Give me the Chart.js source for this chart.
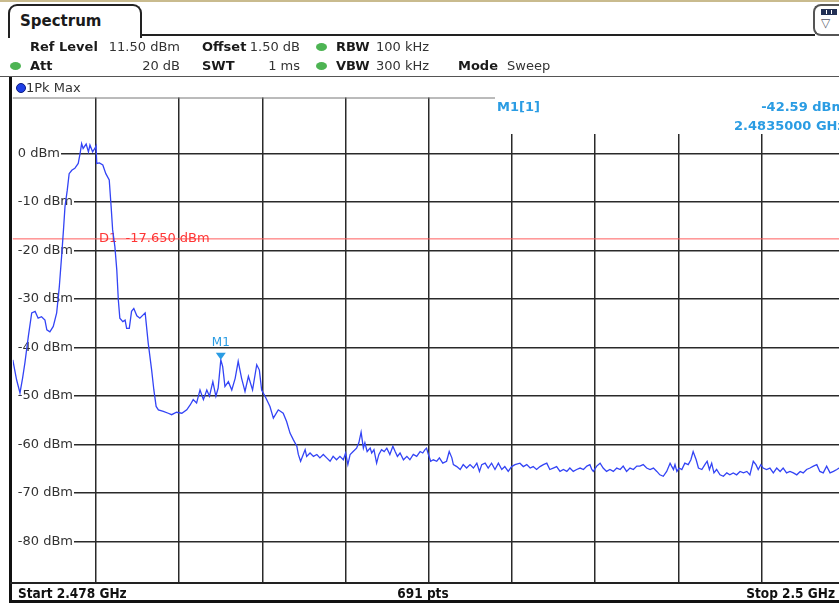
<!DOCTYPE html>
<html>
<head>
<meta charset="utf-8">
<script src="https://cdn.jsdelivr.net/npm/chart.js@4.4.1/dist/chart.umd.min.js"></script>
<style>
html, body { margin: 0; padding: 0; background: #fff; }
body { width: 839px; height: 604px; overflow: hidden; position: relative; font-family: "DejaVu Sans", Verdana, sans-serif; color: #1a1a1a; }
#wrap { position: absolute; left: 0; top: 0; width: 860px; height: 604px; }
.t { position: absolute; white-space: nowrap; font-size: 13px; line-height: 16px; }
.b { font-weight: bold; }
.v { color: #333; }
.r { text-align: right; }
.dot { position: absolute; width: 11px; height: 8px; border-radius: 50%; background: #4db453; }
.bar { font-family: "DejaVu Sans Condensed", "DejaVu Sans", sans-serif; font-weight: bold; font-size: 13.5px; color: #111; }
</style>
</head>
<body>
<div id="wrap"><canvas id="spec" width="860" height="604"></canvas></div>

<!-- cabecera -->
<div style="position:absolute;left:0;top:0;width:839px;height:2px;background:#c9bb8e"></div>
<div style="position:absolute;left:8px;top:4px;width:130px;height:32px;border:2px solid #222;border-bottom:none;border-radius:9px 9px 0 0;background:#fff"></div>
<div class="t b" style="left:20px;top:12px;font-size:15px;line-height:18px">Spectrum</div>
<div style="position:absolute;left:140px;top:34px;width:675px;height:2px;background:#222"></div>
<div style="position:absolute;left:813px;top:4px;width:40px;height:28px;border:2px solid #555;border-right:none;border-radius:8px 0 0 8px;background:#fff"></div>
<div style="position:absolute;left:821px;top:9px;width:16px;height:6px;background:#223055"></div>
<div style="position:absolute;left:826px;top:10px;width:1px;height:4px;background:#fff"></div>
<div style="position:absolute;left:831px;top:10px;width:1px;height:4px;background:#fff"></div>
<div class="t" style="left:821px;top:15px;font-size:12px;color:#556">&#9661;</div>

<div class="t b" style="left:30px;top:38.5px">Ref Level</div>
<div class="t v r" style="left:90px;width:90px;top:38.5px">11.50 dBm</div>
<div class="t b" style="left:202px;top:38.5px">Offset</div>
<div class="t v r" style="left:240px;width:60px;top:38.5px">1.50 dB</div>
<div class="dot" style="left:315.5px;top:43px"></div>
<div class="t b" style="left:336px;top:38.5px">RBW</div>
<div class="t v" style="left:376px;top:38.5px">100 kHz</div>

<div class="dot" style="left:10px;top:62px"></div>
<div class="t b" style="left:30px;top:58px">Att</div>
<div class="t v r" style="left:120px;width:60px;top:58px">20 dB</div>
<div class="t b" style="left:202px;top:58px">SWT</div>
<div class="t v r" style="left:240px;width:60px;top:58px">1 ms</div>
<div class="dot" style="left:315.5px;top:62px"></div>
<div class="t b" style="left:336px;top:58px">VBW</div>
<div class="t v" style="left:376px;top:58px">300 kHz</div>
<div class="t b" style="left:458px;top:58px">Mode</div>
<div class="t v" style="left:507px;top:58px">Sweep</div>

<div style="position:absolute;left:0;top:76px;width:839px;height:1px;background:#555"></div>
<div style="position:absolute;left:15.5px;top:83px;width:8px;height:8px;border-radius:50%;background:#1f3fe6;border:0.5px solid #0a1a80"></div>
<div class="t v" style="left:26px;top:79.5px">1Pk Max</div>

<!-- marco -->
<div style="position:absolute;left:9px;top:77px;width:3px;height:526px;background:#111"></div>
<div style="position:absolute;left:10px;top:581.5px;width:829px;height:2px;background:#222"></div>
<div style="position:absolute;left:9px;top:600px;width:830px;height:3px;background:#111"></div>
<div class="t bar" style="left:18px;top:584.5px">Start 2.478 GHz</div>
<div class="t bar" style="left:373px;width:100px;top:584.5px;text-align:center">691 pts</div>
<div class="t bar r" style="left:735px;width:100px;top:584.5px">Stop 2.5 GHz</div>

<script>
const freqMHz = [
    2478.00, 2478.10, 2478.19, 2478.26, 2478.32, 2478.41, 2478.50, 2478.59, 2478.67, 2478.76,
    2478.85, 2478.90, 2478.98, 2479.07, 2479.16, 2479.23, 2479.29, 2479.34, 2479.38, 2479.44,
    2479.49, 2479.56, 2479.64, 2479.73, 2479.78, 2479.82, 2479.86, 2479.94, 2480.00, 2480.04,
    2480.11, 2480.17, 2480.20, 2480.22, 2480.29, 2480.38, 2480.46, 2480.55, 2480.60, 2480.64,
    2480.70, 2480.75, 2480.79, 2480.83, 2480.91, 2480.97, 2481.01, 2481.08, 2481.14, 2481.20,
    2481.28, 2481.36, 2481.50, 2481.58, 2481.67, 2481.73, 2481.79, 2481.85, 2481.98, 2482.11,
    2482.20, 2482.33, 2482.47, 2482.60, 2482.69, 2482.77, 2482.86, 2482.95, 2483.04, 2483.13,
    2483.20, 2483.29, 2483.37, 2483.43, 2483.50, 2483.55, 2483.61, 2483.70, 2483.79, 2483.88,
    2483.96, 2484.05, 2484.14, 2484.23, 2484.34, 2484.45, 2484.52, 2484.58, 2484.67, 2484.80,
    2484.89, 2485.02, 2485.15, 2485.24, 2485.33, 2485.42, 2485.51, 2485.55, 2485.61, 2485.68,
    2485.73, 2485.77, 2485.86, 2485.95, 2486.04, 2486.12, 2486.21, 2486.30, 2486.39, 2486.47,
    2486.56, 2486.65, 2486.74, 2486.80, 2486.86, 2486.92, 2487.00, 2487.09, 2487.15, 2487.21,
    2487.27, 2487.31, 2487.37, 2487.45, 2487.49, 2487.55, 2487.62, 2487.68, 2487.75, 2487.82,
    2487.89, 2487.97, 2488.05, 2488.11, 2488.17, 2488.24, 2488.33, 2488.42, 2488.50, 2488.59,
    2488.68, 2488.77, 2488.84, 2488.90, 2488.94, 2488.99, 2489.05, 2489.12, 2489.21, 2489.28,
    2489.37, 2489.47, 2489.54, 2489.61, 2489.65, 2489.74, 2489.83, 2489.91, 2490.00, 2490.09,
    2490.18, 2490.27, 2490.34, 2490.40, 2490.49, 2490.57, 2490.66, 2490.75, 2490.84, 2490.93,
    2491.01, 2491.10, 2491.19, 2491.28, 2491.41, 2491.50, 2491.59, 2491.68, 2491.76, 2491.85,
    2491.94, 2492.03, 2492.12, 2492.20, 2492.29, 2492.38, 2492.47, 2492.56, 2492.65, 2492.73,
    2492.82, 2492.91, 2493.00, 2493.09, 2493.18, 2493.26, 2493.31, 2493.35, 2493.44, 2493.53,
    2493.61, 2493.70, 2493.79, 2493.88, 2493.97, 2494.06, 2494.14, 2494.23, 2494.32, 2494.41,
    2494.50, 2494.58, 2494.67, 2494.76, 2494.85, 2494.94, 2495.03, 2495.11, 2495.20, 2495.29,
    2495.38, 2495.42, 2495.47, 2495.51, 2495.56, 2495.62, 2495.69, 2495.77, 2495.86, 2495.93,
    2495.99, 2496.07, 2496.13, 2496.22, 2496.30, 2496.36, 2496.42, 2496.48, 2496.54, 2496.61,
    2496.70, 2496.79, 2496.88, 2496.96, 2497.05, 2497.14, 2497.23, 2497.32, 2497.41, 2497.49,
    2497.58, 2497.65, 2497.71, 2497.78, 2497.84, 2497.93, 2498.02, 2498.11, 2498.20, 2498.29,
    2498.37, 2498.46, 2498.55, 2498.64, 2498.73, 2498.82, 2498.90, 2498.99, 2499.08, 2499.17,
    2499.26, 2499.34, 2499.43, 2499.52, 2499.61, 2499.70, 2499.79, 2499.85, 2499.93, 2500.00,
];

const levelDbm = [
    -42.6, -46.7, -49.4, -46.3, -43.2, -37.8, -32.9, -32.6, -34.0, -33.7,
    -34.4, -36.4, -36.8, -35.7, -32.9, -27.5, -21.3, -15.8, -11.0, -7.6,
    -4.2, -3.5, -3.1, -2.1, 0.0, 2.0, 1.0, 1.9, 0.3, 1.7,
    0.3, 1.0, 1.5, -2.1, -2.0, -2.4, -4.2, -5.5, -11.0, -15.8,
    -19.3, -24.1, -30.2, -34.0, -34.7, -34.4, -36.1, -36.1, -32.6, -32.0,
    -33.5, -34.0, -32.9, -39.1, -44.6, -48.8, -52.2, -52.9, -53.2, -53.6,
    -53.9, -53.4, -53.6, -52.9, -51.9, -50.8, -51.5, -48.8, -50.8, -48.8,
    -50.1, -47.1, -50.1, -48.4, -42.59, -44.0, -48.1, -47.1, -48.8, -46.4,
    -42.9, -46.4, -49.1, -46.0, -48.8, -43.6, -44.7, -48.8, -50.1, -52.2,
    -54.6, -52.9, -53.6, -55.3, -57.7, -59.1, -60.4, -62.1, -63.5, -62.1,
    -61.1, -62.5, -61.8, -62.5, -62.1, -62.8, -62.1, -62.8, -63.5, -62.5,
    -63.2, -62.5, -63.2, -61.8, -64.2, -62.1, -61.5, -60.8, -59.7, -57.5,
    -60.8, -59.7, -61.5, -60.8, -61.8, -61.1, -63.9, -62.1, -61.1, -61.5,
    -60.8, -62.1, -60.4, -61.5, -62.5, -61.8, -63.2, -62.5, -63.2, -62.1,
    -62.5, -61.5, -61.8, -61.1, -60.8, -62.1, -63.5, -63.2, -63.5, -62.8,
    -63.9, -63.5, -61.5, -62.8, -64.2, -64.6, -65.2, -64.2, -64.9, -64.2,
    -64.9, -63.9, -65.6, -64.2, -63.9, -64.9, -63.9, -65.2, -63.9, -65.2,
    -64.6, -65.6, -64.6, -64.2, -63.9, -64.6, -64.2, -64.9, -64.6, -65.2,
    -64.6, -64.2, -63.9, -65.2, -64.9, -64.6, -65.6, -65.2, -65.6, -64.9,
    -65.6, -65.2, -64.9, -65.2, -64.5, -64.2, -65.2, -65.6, -64.5, -63.9,
    -64.9, -65.6, -65.2, -65.6, -64.9, -65.2, -64.5, -65.6, -64.9, -65.2,
    -64.5, -64.5, -64.2, -64.9, -65.2, -64.9, -65.6, -66.3, -66.6, -65.6,
    -63.9, -64.5, -65.2, -64.2, -65.6, -64.9, -65.2, -63.9, -64.2, -63.2,
    -61.5, -63.2, -64.9, -65.2, -64.2, -63.5, -65.2, -63.9, -65.9, -65.2,
    -66.3, -66.6, -65.9, -66.3, -65.9, -66.3, -65.6, -65.9, -65.6, -66.3,
    -63.5, -64.2, -65.2, -64.2, -64.9, -65.2, -64.9, -65.9, -64.9, -65.6,
    -64.9, -65.9, -65.6, -65.9, -66.3, -65.6, -65.9, -65.2, -64.9, -64.5,
    -64.2, -65.6, -65.9, -64.5, -65.9, -65.6, -65.2, -64.9, -65.4, -65.0,
];

// Rejilla: 10 divisiones de frecuencia, niveles cada 10 dB
const freqGrid = [2478, 2480.2, 2482.4, 2484.6, 2486.8, 2489, 2491.2, 2493.4, 2495.6, 2497.8, 2500];
const levelTicks = [0, -10, -20, -30, -40, -50, -60, -70, -80];
const refLevel = 11.5;
const bottomLevel = -88.5;

// Marcador y linea de display
const markerFreq = 2483.5;
const markerLevel = -42.59;
const displayLine = -17.65;

const gridColor = "#2a2a2a";
const markerColor = "#2a9ce3";

const overlay = {
    id: "overlay",
    beforeDatasetsDraw(chart) {
        const { ctx, chartArea, scales } = chart;
        ctx.save();
        // zona de texto del marcador
        ctx.fillStyle = "#fff";
        ctx.fillRect(495, chartArea.top - 1, chartArea.right - 495 + 2, 135 - chartArea.top);
        // borde superior
        ctx.strokeStyle = "#777";
        ctx.lineWidth = 1;
        ctx.beginPath();
        ctx.moveTo(chartArea.left, chartArea.top + 0.5);
        ctx.lineTo(495, chartArea.top + 0.5);
        ctx.stroke();
        // D1
        const yd = scales.y.getPixelForValue(displayLine);
        ctx.strokeStyle = "#ff5c5c";
        ctx.beginPath();
        ctx.moveTo(chartArea.left, yd);
        ctx.lineTo(chartArea.right, yd);
        ctx.stroke();
        ctx.font = "13px 'DejaVu Sans'";
        ctx.fillStyle = "#ff3535";
        ctx.textBaseline = "middle";
        ctx.fillText("D1  " + displayLine.toFixed(3) + " dBm", 99, yd);
        ctx.restore();
    },
    afterDatasetsDraw(chart) {
        const { ctx, scales } = chart;
        const px = scales.x.getPixelForValue(markerFreq);
        const py = scales.y.getPixelForValue(markerLevel);
        ctx.save();
        ctx.fillStyle = markerColor;
        ctx.beginPath();
        ctx.moveTo(px, py);
        ctx.lineTo(px - 5, py - 7);
        ctx.lineTo(px + 5, py - 7);
        ctx.closePath();
        ctx.fill();
        ctx.font = "12px 'DejaVu Sans'";
        ctx.textAlign = "center";
        ctx.textBaseline = "middle";
        ctx.fillText("M1", px, py - 17);

        ctx.font = "bold 13px 'DejaVu Sans'";
        ctx.textAlign = "left";
        ctx.fillText("M1[1]", 497, 108);
        ctx.textAlign = "right";
        ctx.fillText(markerLevel.toFixed(2) + " dBm", 845, 108);
        ctx.fillText((markerFreq / 1000).toFixed(7) + " GHz", 845, 127);
        ctx.restore();
    },
};

const spec = document.getElementById("spec").getContext("2d");

let chart = new Chart(spec, {
    type: "line",
    data: {
        datasets: [
            {
                label: "1Pk Max",
                data: freqMHz.map((f, i) => ({ x: f, y: levelDbm[i] })),
                borderColor: "#3344f5",
                borderWidth: 1.3,
                pointRadius: 0,
                tension: 0,
            },
        ],
    },
    options: {
        responsive: false,
        animation: false,
        devicePixelRatio: 1,
        layout: { padding: { left: 12.8, right: 15.2, top: 97.5, bottom: 21.5 } },
        plugins: { legend: { display: false }, tooltip: { enabled: false } },
        scales: {
            x: {
                type: "linear",
                min: 2478,
                max: 2500,
                afterBuildTicks: (s) => { s.ticks = freqGrid.map((v) => ({ value: v })); },
                afterFit: (s) => { s.height = 0; },
                ticks: { display: false },
                border: { display: false },
                grid: {
                    drawTicks: false,
                    lineWidth: 1.5,
                    color: (c) => (c.index === 0 ? "rgba(0,0,0,0)" : gridColor),
                },
            },
            y: {
                min: bottomLevel,
                max: refLevel,
                afterBuildTicks: (s) => { s.ticks = levelTicks.map((v) => ({ value: v })); },
                afterFit: (s) => { s.width = 0; },
                border: { display: false },
                grid: { drawTicks: false, lineWidth: 1.5, color: gridColor },
                ticks: {
                    mirror: true,
                    padding: 5,
                    color: "#333",
                    font: { family: "DejaVu Sans", size: 13 },
                    callback: (v) => v + " dBm",
                    showLabelBackdrop: true,
                    backdropColor: "#fff",
                    backdropPadding: { top: 0, bottom: 0, left: 6, right: 1 },
                },
            },
        },
    },
    plugins: [overlay],
});
</script>
</body>
</html>
